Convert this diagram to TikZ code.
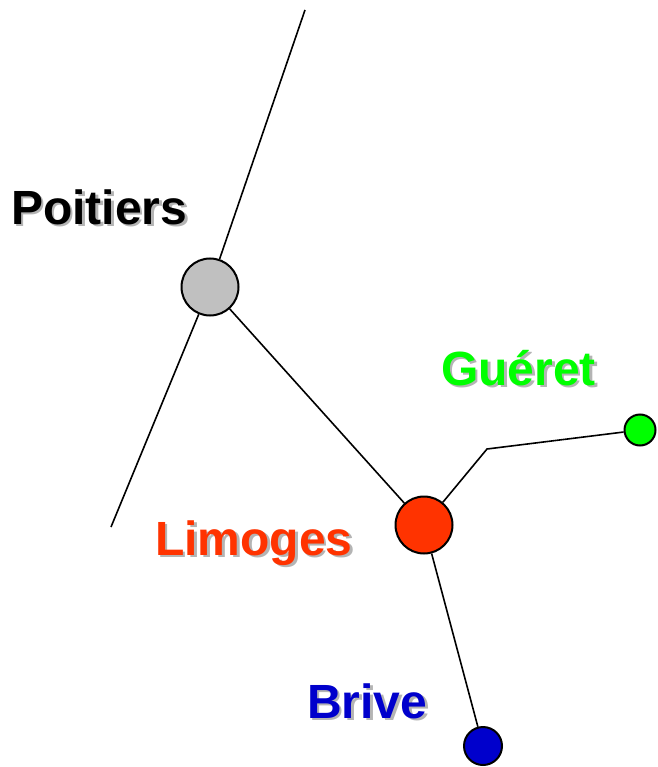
\documentclass[tikz,border=0pt]{standalone}
\usepackage{fontspec}
\setmainfont{Liberation Sans}
\definecolor{cgray}{HTML}{C0C0C0}
\definecolor{cred}{HTML}{FF3300}
\definecolor{cgreen}{HTML}{00FF00}
\definecolor{cblue}{HTML}{0000CC}
\definecolor{cshadow}{HTML}{B4B4B4}
\newcommand{\shadowtext}[2]{\makebox[0pt][l]{\raisebox{-2.5pt}{\hspace*{2.5pt}\textcolor{cshadow}{#2}}}\textcolor{#1}{#2}}
\begin{document}
\begin{tikzpicture}[x=1pt,y=-1pt,
  city/.style={circle,draw=black,line width=2pt,inner sep=0pt},
  link/.style={line width=1.6pt},
  lbl/.style={anchor=base west,inner sep=0pt,font=\fontsize{48}{52}\selectfont\bfseries}]
\useasboundingbox (0,0) rectangle (657,767);
\coordinate (t) at (305,10);
\coordinate (b) at (111,527);
\coordinate (k) at (487,449);
\node[city,fill=cgray,minimum size=57pt] (P) at (210,287) {};
\node[city,fill=cred,minimum size=57pt] (L) at (424,525) {};
\node[city,fill=cgreen,minimum size=31pt] (G) at (640,430) {};
\node[city,fill=cblue,minimum size=38pt] (B) at (483,746) {};
\draw[link] (t) -- (P);
\draw[link] (P) -- (b);
\draw[link] (P) -- (L);
\draw[link] (L) -- (k) -- (G);
\draw[link] (L) -- (B);
\node[lbl] (lp) at (11,224) {\shadowtext{black}{Poitiers}};
\node[lbl] (ll) at (155,555) {\shadowtext{cred}{Limoges}};
\node[lbl] (lg) at (441,385) {\shadowtext{cgreen}{Guéret}};
\node[lbl] (lb) at (307,718) {\shadowtext{cblue}{Brive}};
\end{tikzpicture}
\end{document}
